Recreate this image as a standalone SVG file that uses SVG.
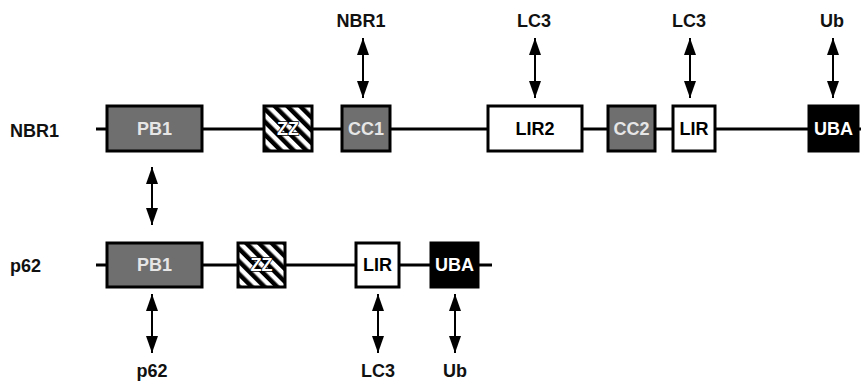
<svg xmlns="http://www.w3.org/2000/svg" width="861" height="387" viewBox="0 0 861 387">
<style>
.lbl{font-family:"Liberation Sans",Arial,sans-serif;font-weight:bold;font-size:18px;fill:#111}
.bt{font-family:"Liberation Sans",Arial,sans-serif;font-weight:bold;font-size:18px;text-anchor:middle}
.box{stroke:#000;stroke-width:3}
.gray{fill:#6f6f6f}
.white{fill:#fff}
.black{fill:#000}
.hatch{fill:url(#stripes)}
.bb{stroke:#000;stroke-width:3;fill:none}
.arr{stroke:#000;stroke-width:2;marker-start:url(#ah);marker-end:url(#ah)}
.ctr{text-anchor:middle}
</style>
<defs>
<marker id="ah" viewBox="0 0 17 12" markerWidth="17" markerHeight="12" refX="17" refY="6" markerUnits="userSpaceOnUse" orient="auto-start-reverse">
<path d="M0,0 L17,6 L0,12 z" fill="#000"/>
</marker>
<pattern id="stripes" patternUnits="userSpaceOnUse" width="9" height="9" patternTransform="rotate(-45)">
<rect width="9" height="9" fill="#fff"/>
<rect width="4.5" height="9" fill="#000"/>
</pattern>
</defs>
<g id="backbones">
<line x1="96" y1="129" x2="861" y2="129" class="bb"/>
<line x1="96" y1="265" x2="492" y2="265" class="bb"/>
</g>
<g id="row-labels">
<text x="10" y="137" class="lbl">NBR1</text>
<text x="10" y="272" class="lbl">p62</text>
</g>
<g id="nbr1-PB1"><rect x="107" y="106" width="95" height="45" class="box gray"/><text x="154.5" y="135" class="bt" fill="#e6e6e6">PB1</text></g>
<g id="nbr1-ZZ"><rect x="264" y="106" width="48" height="45" class="box hatch"/><text x="288" y="135" class="bt" fill="#fff" stroke="#000" stroke-width="1.5" paint-order="stroke">ZZ</text></g>
<g id="nbr1-CC1"><rect x="342" y="106" width="48" height="45" class="box gray"/><text x="366" y="135" class="bt" fill="#e6e6e6">CC1</text></g>
<g id="nbr1-LIR2"><rect x="488" y="106" width="94" height="45" class="box white"/><text x="535" y="135" class="bt" fill="#000">LIR2</text></g>
<g id="nbr1-CC2"><rect x="608" y="106" width="47" height="45" class="box gray"/><text x="631.5" y="135" class="bt" fill="#e6e6e6">CC2</text></g>
<g id="nbr1-LIR"><rect x="673" y="106" width="42" height="45" class="box white"/><text x="694" y="135" class="bt" fill="#000">LIR</text></g>
<g id="nbr1-UBA"><rect x="809" y="106" width="49" height="45" class="box black"/><text x="833.5" y="135" class="bt" fill="#fff">UBA</text></g>
<g id="p62-PB1"><rect x="107" y="243" width="95" height="44" class="box gray"/><text x="154.5" y="271" class="bt" fill="#e6e6e6">PB1</text></g>
<g id="p62-ZZ"><rect x="238" y="243" width="47" height="44" class="box hatch"/><text x="261.5" y="271" class="bt" fill="#fff" stroke="#000" stroke-width="1.5" paint-order="stroke">ZZ</text></g>
<g id="p62-LIR"><rect x="356" y="243" width="43" height="44" class="box white"/><text x="377.5" y="271" class="bt" fill="#000">LIR</text></g>
<g id="p62-UBA"><rect x="431" y="243" width="47" height="44" class="box black"/><text x="454.5" y="271" class="bt" fill="#fff">UBA</text></g>
<g id="partner-labels" class="lbl ctr">
<text x="361" y="27" class="lbl ctr">NBR1</text>
<text x="534" y="27" class="lbl ctr">LC3</text>
<text x="689" y="27" class="lbl ctr">LC3</text>
<text x="832" y="27" class="lbl ctr">Ub</text>
<text x="152" y="377" class="lbl ctr">p62</text>
<text x="378" y="377" class="lbl ctr">LC3</text>
<text x="455" y="377" class="lbl ctr">Ub</text>
</g>
<g id="connectors">
<line x1="363" y1="38" x2="363" y2="98" class="arr"/>
<line x1="535" y1="38" x2="535" y2="98" class="arr"/>
<line x1="690" y1="38" x2="690" y2="98" class="arr"/>
<line x1="833" y1="38" x2="833" y2="98" class="arr"/>
<line x1="152" y1="167" x2="152" y2="225" class="arr"/>
<line x1="152" y1="294" x2="152" y2="353" class="arr"/>
<line x1="378" y1="294" x2="378" y2="353" class="arr"/>
<line x1="455" y1="294" x2="455" y2="353" class="arr"/>
</g>
</svg>
